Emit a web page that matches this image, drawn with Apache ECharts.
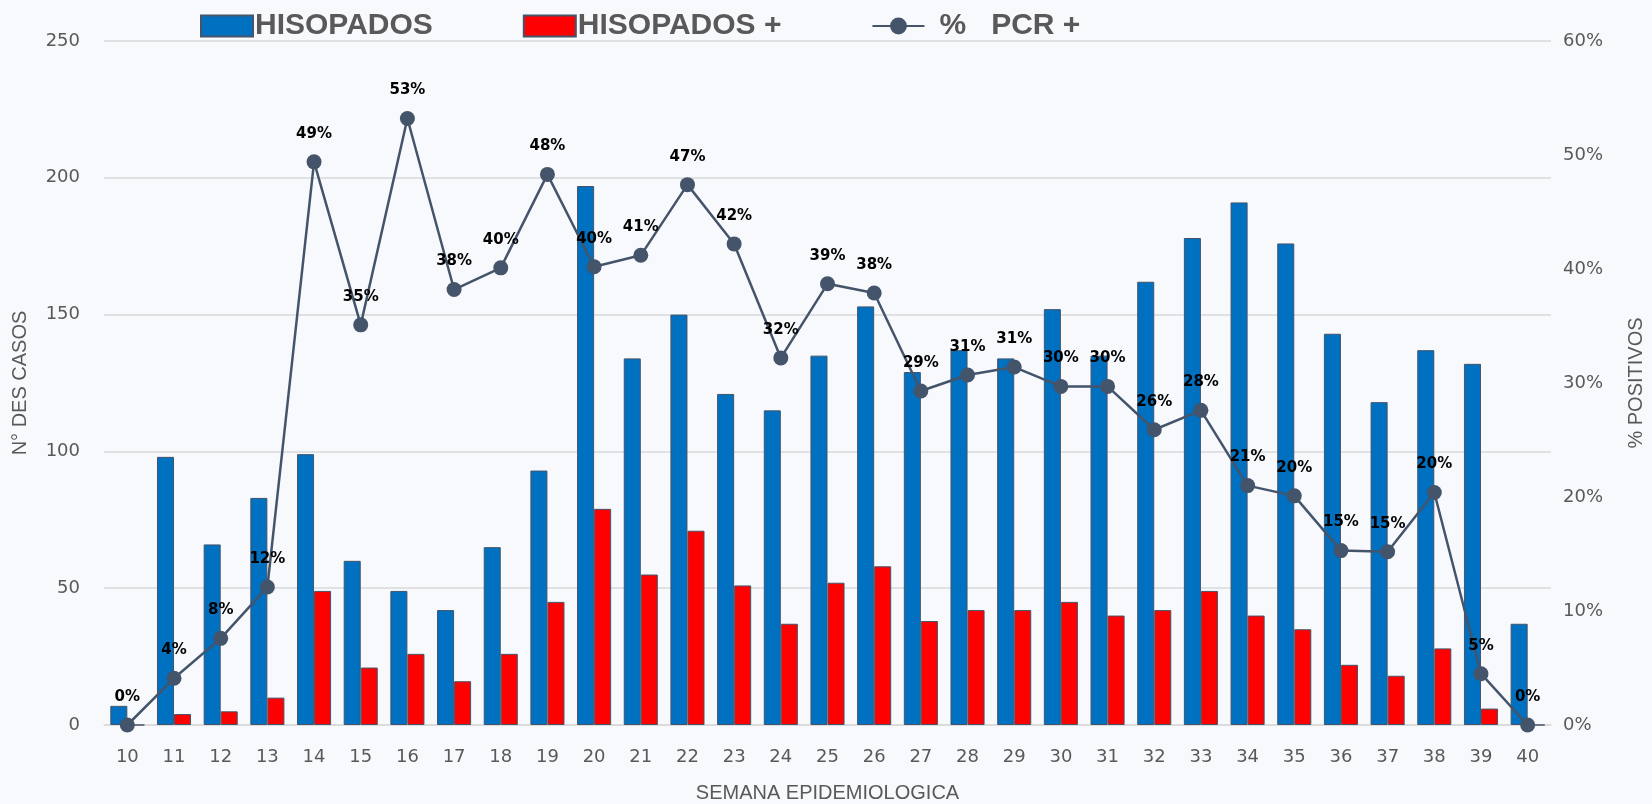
<!DOCTYPE html>
<html>
<head>
<meta charset="utf-8">
<script src="https://cdn.jsdelivr.net/npm/echarts@6/dist/echarts.min.js"></script>
<style>
  html, body { margin: 0; padding: 0; background: #f7f9fd; overflow: hidden; }
  #chart { width: 100vw; height: 100vh; }
</style>
</head>
<body>
<div id="chart"></div>
<script>
var semanas = ["10","11","12","13","14","15","16","17","18","19","20","21","22","23","24","25","26","27","28","29","30","31","32","33","34","35","36","37","38","39","40"];
var hisopados = [7, 98, 66, 83, 99, 60, 49, 42, 65, 93, 197, 134, 150, 121, 115, 135, 153, 129, 137, 134, 152, 135, 162, 178, 191, 176, 143, 118, 137, 132, 37];
var hisopadosPos = [0, 4, 5, 10, 49, 21, 26, 16, 26, 45, 79, 55, 71, 51, 37, 52, 58, 38, 42, 42, 45, 40, 42, 49, 40, 35, 22, 18, 28, 6, 0];
var pcrPos = [0, 0.041, 0.076, 0.121, 0.494, 0.351, 0.532, 0.382, 0.401, 0.483, 0.402, 0.412, 0.474, 0.422, 0.322, 0.387, 0.379, 0.293, 0.307, 0.314, 0.297, 0.297, 0.259, 0.276, 0.210, 0.201, 0.153, 0.152, 0.204, 0.045, 0];

var narrow = "'Liberation Sans Narrow', 'Liberation Sans', sans-serif";
var myChart = echarts.init(document.getElementById("chart"));
var option = {
  backgroundColor: "#f7f9fd",
  animation: false,
  legend: {
    left: 195,
    top: 6,
    itemWidth: 52,
    itemHeight: 21,
    itemGap: 90,
    textStyle: {
      fontFamily: narrow,
      fontWeight: "bold",
      fontSize: 30,
      color: "#595959",
      padding: [0, 0, 0, -3],
    },
    data: [
      { name: "HISOPADOS", icon: "rect" },
      { name: "HISOPADOS +", icon: "rect" },
      { name: "%   PCR +", textStyle: { padding: [0, 0, 0, 10] } },
    ],
  },
  grid: {
    left: 104,
    right: 101,
    top: 41,
    bottom: 79,
    outerBoundsMode: "none",
  },
  xAxis: {
    type: "category",
    data: semanas,
    name: "SEMANA EPIDEMIOLOGICA",
    nameLocation: "middle",
    nameGap: 58,
    nameTextStyle: { fontFamily: narrow, fontSize: 20, color: "#595959" },
    axisLine: { lineStyle: { color: "#d9d9d9", width: 1.5 } },
    axisTick: { show: false },
    axisLabel: { fontFamily: "DejaVu Sans", fontSize: 18, color: "#595959", margin: 23 },
  },
  yAxis: [
    {
      type: "value",
      min: 0,
      max: 250,
      interval: 50,
      name: "N° DES CASOS",
      nameLocation: "middle",
      nameRotate: 90,
      nameGap: 74,
      nameTextStyle: { fontFamily: narrow, fontSize: 20, color: "#595959" },
      axisLabel: { fontFamily: "DejaVu Sans", fontSize: 18, color: "#595959", margin: 24 },
      splitLine: { lineStyle: { color: "#d9d9d9", width: 1.5 } },
    },
    {
      type: "value",
      min: 0,
      max: 0.6,
      interval: 0.1,
      name: "% POSITIVOS",
      nameLocation: "middle",
      nameRotate: 90,
      nameGap: 75,
      nameTextStyle: { fontFamily: narrow, fontSize: 20, color: "#595959" },
      axisLabel: {
        fontFamily: "DejaVu Sans",
        fontSize: 18,
        color: "#595959",
        margin: 12,
        formatter: function (v) {
          return Math.round(v * 100) + "%";
        },
      },
      splitLine: { show: false },
    },
  ],
  series: [
    {
      name: "HISOPADOS",
      type: "bar",
      data: hisopados,
      barGap: "0%",
      barCategoryGap: "27%",
      itemStyle: { color: "#0070c0", borderColor: "#44546a", borderWidth: 1 },
    },
    {
      name: "HISOPADOS +",
      type: "bar",
      data: hisopadosPos,
      itemStyle: { color: "#ff0000", borderColor: "#44546a", borderWidth: 1 },
    },
    {
      name: "%   PCR +",
      type: "line",
      yAxisIndex: 1,
      data: pcrPos,
      symbol: "circle",
      symbolSize: 15,
      z: 5,
      lineStyle: { color: "#44546a", width: 2.5 },
      itemStyle: { color: "#44546a" },
      label: {
        show: true,
        position: "top",
        distance: 13,
        fontFamily: "DejaVu Sans",
        fontWeight: "bold",
        fontSize: 15,
        color: "#000",
        formatter: function (p) {
          return Math.round(p.value * 100) + "%";
        },
      },
    },
  ],
};
option && myChart.setOption(option);
</script>
</body>
</html>
